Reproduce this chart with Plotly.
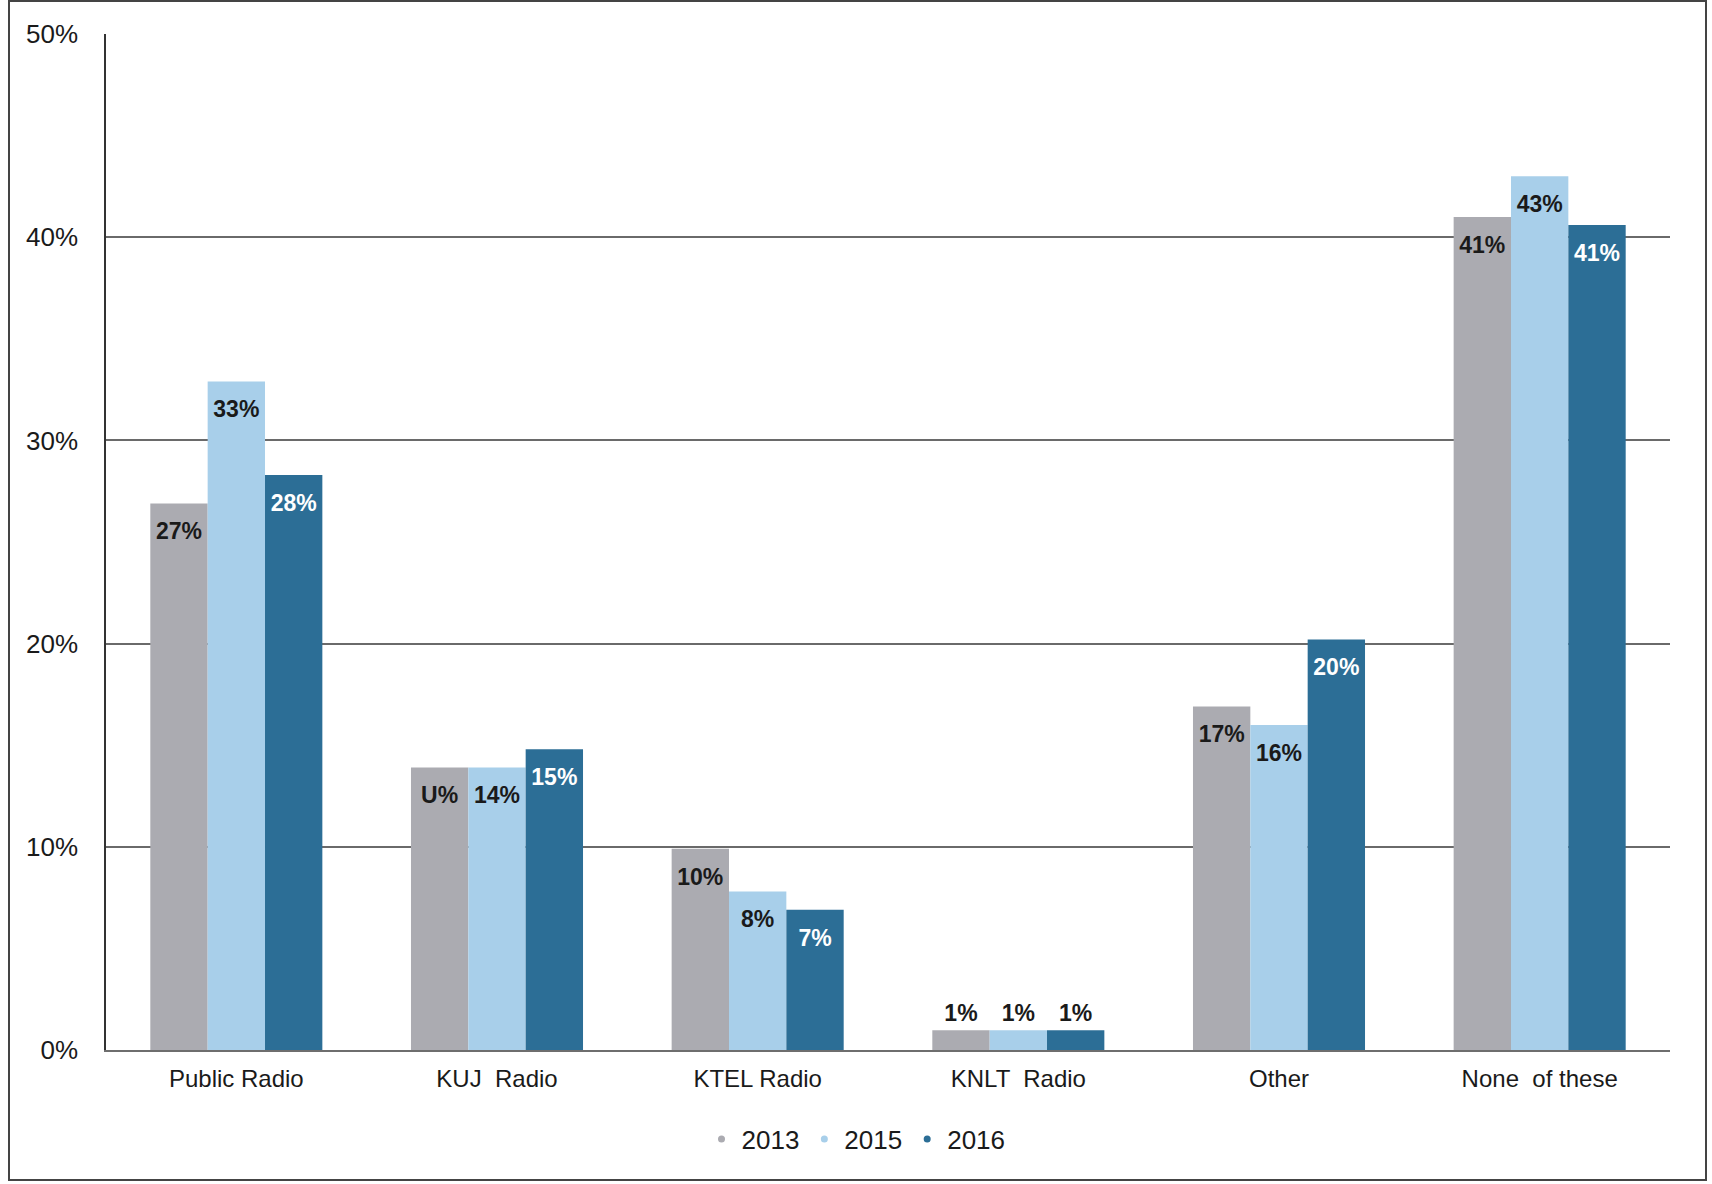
import plotly.graph_objects as go

categories = ["Public Radio", "KUJ  Radio", "KTEL Radio", "KNLT  Radio", "Other", "None  of these"]
years = ["2013", "2015", "2016"]
v2013 = [26.9, 13.9, 9.9, 0.97, 16.9, 41.0]
v2015 = [32.9, 13.9, 7.8, 0.97, 16.0, 43.0]
v2016 = [28.3, 14.8, 6.9, 0.97, 20.2, 40.6]
lab2013 = ["27%", "U%", "10%", "1%", "17%", "41%"]
lab2015 = ["33%", "14%", "8%", "1%", "16%", "43%"]
lab2016 = ["28%", "15%", "7%", "1%", "20%", "41%"]
ytickvals = [0, 10, 20, 30, 40, 50]
yticktext = ["0%", "10%", "20%", "30%", "40%", "50%"]

colors = ["#ababb1", "#a8cfea", "#2c6e96"]
values = [v2013, v2015, v2016]
labels = [lab2013, lab2015, lab2016]
label_colors = ["#1a1a1a", "#1a1a1a", "#ffffff"]
FONT = "Liberation Sans, Arial, sans-serif"

fig = go.Figure()
for yr, vals, col in zip(years, values, colors):
    fig.add_trace(go.Bar(x=categories, y=vals, name=yr, marker=dict(color=col, line=dict(width=0)),
                         showlegend=False, hoverinfo="skip"))

for yr, vals, labs, tc in zip(years, values, labels, label_colors):
    small = [v < 3 for v in vals]
    fig.add_trace(go.Scatter(
        x=categories, y=vals, mode="markers+text", text=labs,
        textposition=["top center" if s else "bottom center" for s in small],
        textfont=dict(family=FONT, size=23, weight="bold",
                      color=["#1a1a1a" if s else tc for s in small]),
        marker=dict(size=[4 if s else 28 for s in small], opacity=0),
        showlegend=False, hoverinfo="skip"))

for yr, col in zip(years, colors):
    fig.add_trace(go.Scatter(x=[None], y=[None], mode="markers", name=yr,
                             marker=dict(color=col, size=7), xaxis="x2", yaxis="y2"))

fig.update_layout(
    width=1712, height=1184,
    margin=dict(l=106, r=42, t=34, b=134),
    paper_bgcolor="white", plot_bgcolor="white",
    barmode="group", bargap=0.34, bargroupgap=0,
    scattermode="group", scattergap=0.34,
    font=dict(family=FONT, size=24, color="#1a1a1a"),
    xaxis=dict(showgrid=False, showline=True, linecolor="#6e6e6e", linewidth=2,
               ticks="", ticklabelstandoff=6, tickfont=dict(size=24)),
    yaxis=dict(range=[0, 50], tickvals=ytickvals, ticktext=yticktext,
               showgrid=True, gridcolor="#6a6a6a", gridwidth=1.5,
               showline=True, linecolor="#333333", linewidth=1.5,
               zeroline=False, ticks="", ticklabelstandoff=21, tickfont=dict(size=26)),
    xaxis2=dict(overlaying="x", visible=False),
    yaxis2=dict(overlaying="y", visible=False),
    legend=dict(orientation="h", xref="container", x=0.5, xanchor="center",
                yref="container", y=0.038, yanchor="middle",
                font=dict(size=26), itemwidth=30, bgcolor="rgba(0,0,0,0)"),
    shapes=[dict(type="rect", xref="paper", yref="paper",
                 x0=(9 - 106) / 1564, x1=(1706 - 106) / 1564,
                 y0=(1050 - 1180) / 1016, y1=(1050 - 1) / 1016,
                 line=dict(color="#444444", width=2), fillcolor="rgba(0,0,0,0)", layer="above")],
)

fig.write_html("out.html", config={"displayModeBar": False},
               post_script="document.body.style.margin='0';")
